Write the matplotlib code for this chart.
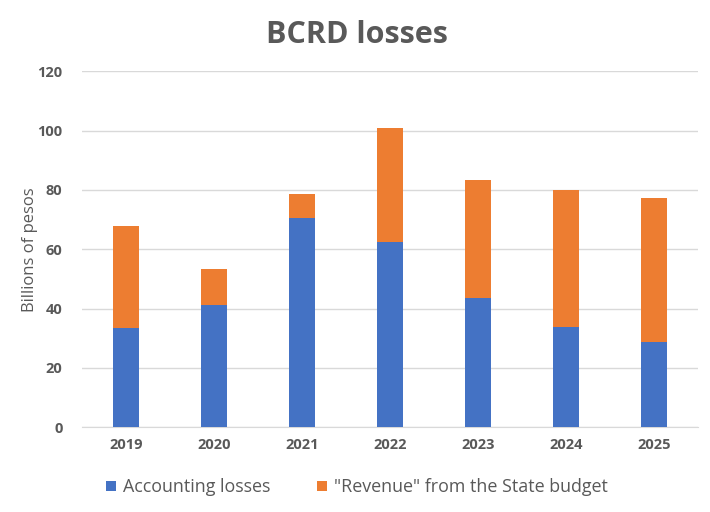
import numpy as np
from matplotlib import pyplot as plt

years = ['2019', '2020', '2021', '2022', '2023', '2024', '2025']
accounting = [33.5, 41.2, 70.6, 62.5, 43.6, 33.8, 28.8]
revenue = [34.4, 12.2, 8.1, 38.4, 39.8, 46.2, 48.5]

blue = '#4472C4'
orange = '#ED7D31'
grey = '#595959'

plt.rcParams['font.family'] = ['Open Sans', 'DejaVu Sans']

fig = plt.figure(figsize=(7.1, 5.12), dpi=100)
ax = fig.add_axes([0.1155, 0.1654, 0.8675, 0.6953])

x = np.arange(len(years))
w = 0.30
b1 = ax.bar(x, accounting, w, color=blue, label='Accounting losses', zorder=3)
b2 = ax.bar(x, revenue, w, bottom=accounting, color=orange,
            label='"Revenue" from the State budget', zorder=3)

ax.set_xlim(-0.5, len(years) - 0.5)
ax.set_ylim(0, 120)
ax.set_yticks(range(0, 121, 20))
ax.set_xticks(x)
ax.set_xticklabels(years)
ax.yaxis.grid(True, color='#D9D9D9', lw=1, zorder=0)
for s in ['top', 'right', 'left']:
    ax.spines[s].set_visible(False)
ax.spines['bottom'].set_color('#D9D9D9')
ax.tick_params(length=0, colors=grey, labelsize=10.5, pad=8)
for t in ax.get_xticklabels() + ax.get_yticklabels():
    t.set_fontweight('bold')
ax.tick_params(axis='y', pad=14)

ax.set_ylabel('Billions of pesos', fontsize=12, color=grey)
ax.yaxis.set_label_coords(-0.072, 0.5)
fig.text(0.503, 1 - 43 / 512, 'BCRD losses', ha='center', va='baseline',
         fontsize=22, fontweight='bold', color=grey)

fig.legend(handles=[b1, b2], loc='center', bbox_to_anchor=(0.503, 0.048),
           ncol=2, frameon=False, fontsize=12.9, labelcolor=grey,
           handlelength=0.55, handleheight=0.55, handletextpad=0.4,
           columnspacing=2.6)

plt.savefig('out.png', dpi=100)
